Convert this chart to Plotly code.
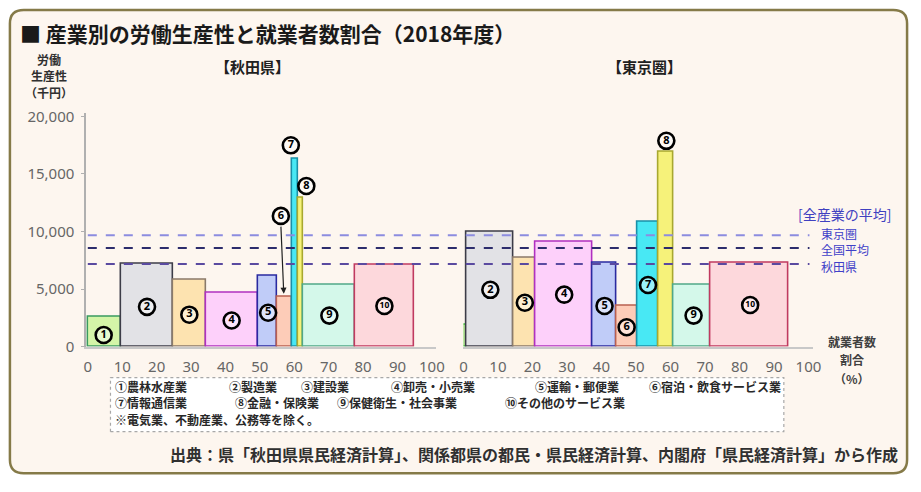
import numpy as np
import plotly.graph_objects as go

W, H = 921, 492

# ---------------- data ----------------
label_digits = ["1", "2", "3", "4", "5", "6", "7", "8", "9", "10"]
# employment share (%) -> bar widths
akita_share = [9.7, 15.2, 9.4, 15.2, 5.6, 4.3, 1.7, 1.6, 15.0, 17.1]
tokyo_share = [0.9, 13.6, 6.5, 16.5, 6.8, 6.0, 6.3, 4.4, 10.6, 22.7]
# labour productivity (thousand yen) -> bar heights
akita_prod = [2550, 7170, 5770, 4650, 6160, 4340, 16280, 12920, 5320, 7140]
tokyo_prod = [1850, 9970, 7730, 9130, 7230, 3500, 10870, 16950, 5400, 7230]
# all-industry averages
avg_names = ["東京圏", "全国平均", "秋田県"]
avg_values = [9660, 8570, 7170]
x_ticks = [0, 10, 20, 30, 40, 50, 60, 70, 80, 90, 100]
y_ticks = [0, 5000, 10000, 15000, 20000]
y_ticktext = ["0", "5,000", "10,000", "15,000", "20,000"]

y_title_lines = ["労働", "生産性", "（千円）"]
x_title_lines = ["就業者数", "割合", "（%）"]
legend_line1 = ["①農林水産業", "②製造業", "③建設業", "④卸売・小売業", "⑤運輸・郵便業", "⑥宿泊・飲食サービス業"]
legend_line2 = ["⑦情報通信業", "⑧金融・保険業", "⑨保健衛生・社会事業", "⑩その他のサービス業"]
legend_note = "※電気業、不動産業、公務等を除く。"
title = "■ 産業別の労働生産性と就業者数割合（2018年度）"
source = "出典：県「秋田県県民経済計算」、関係都県の都民・県民経済計算、内閣府「県民経済計算」から作成"

# ---------------- styles / label placement ----------------
fill_colors = ["#d4f5a8", "#e2e2e6", "#fde3b0", "#fdd0fa", "#c0ccf8",
               "#fdccb8", "#48e8f4", "#f6f27a", "#d4f8ea", "#fdd8dc"]
line_colors = ["#3a9a60", "#3c3c48", "#8a7a6a", "#b030c0", "#2a2aa0",
               "#b86050", "#1a90a8", "#a8a830", "#50a888", "#c03a60"]
tokyo_line_colors = ["#40c040"] + line_colors[1:]
avg_colors = ["#8c8ce0", "#2c2c6c", "#5a4aa0"]

akita_lab_x = [4.6, 17.2, 29.5, 41.8, 52.4, 56.1, 59.0, 63.5, 70.2, 86.2]
akita_lab_y = [1010, 3450, 2770, 2270, 2940, 11350, 17480, 13950, 2690, 3530]
tokyo_lab_x = [-1.5, 7.8, 17.8, 29.2, 40.9, 47.3, 53.5, 58.8, 66.7, 83.1]
tokyo_lab_y = [2600, 4930, 3810, 4510, 3530, 1680, 5350, 17870, 2690, 3610]

# gaps (in em) between legend items, per line
IDEO, EN = "\u3000", "\u2002"
gaps1 = [3.5, 2, 3.5, 5, 2.5]
gaps2 = [4, 1.5, 4]

CJK = "Noto Sans CJK JP"


def px(x):
    return x / W


def py(y):
    return 1 - y / H


def centers(shares):
    s = np.array(shares, dtype=float)
    right = np.cumsum(s)
    return right - s / 2


def gap(em):
    return IDEO * int(em) + (EN if em - int(em) >= 0.5 else "")


def join_items(items, gaps):
    out = items[0]
    for g, it in zip(gaps, items[1:]):
        out += gap(g) + it
    return out


fig = go.Figure()

# outer rounded frame
x0, x1, y0, y1, r = 6, 916, 3, 482, 14
path = (f"M {px(x0+r)} {py(y0)} L {px(x1-r)} {py(y0)} Q {px(x1)} {py(y0)} {px(x1)} {py(y0+r)} "
        f"L {px(x1)} {py(y1-r)} Q {px(x1)} {py(y1)} {px(x1-r)} {py(y1)} "
        f"L {px(x0+r)} {py(y1)} Q {px(x0)} {py(y1)} {px(x0)} {py(y1-r)} "
        f"L {px(x0)} {py(y0+r)} Q {px(x0)} {py(y0)} {px(x0+r)} {py(y0)} Z")
shapes = [dict(type="path", path=path, xref="paper", yref="paper",
               fillcolor="#fdf6ef", line=dict(color="#857a48", width=2.5), layer="below")]

# bars
ak_c = centers(akita_share)
tk_c = centers(tokyo_share)
fig.add_trace(go.Bar(x=ak_c, y=akita_prod, width=akita_share, xaxis="x", yaxis="y",
                     marker=dict(color=fill_colors, line=dict(color=line_colors, width=1.6)),
                     hoverinfo="skip", showlegend=False))
fig.add_trace(go.Bar(x=tk_c, y=tokyo_prod, width=tokyo_share, xaxis="x2", yaxis="y2",
                     marker=dict(color=fill_colors, line=dict(color=tokyo_line_colors, width=1.6)),
                     hoverinfo="skip", showlegend=False))

# circled number labels
lab_sizes = [11 if d != "10" else 8.5 for d in label_digits]
for lx, ly, xa, ya in [(akita_lab_x, akita_lab_y, "x", "y"), (tokyo_lab_x, tokyo_lab_y, "x2", "y2")]:
    fig.add_trace(go.Scatter(
        x=lx, y=ly, xaxis=xa, yaxis=ya, mode="markers+text",
        text=["<b>" + d + "</b>" for d in label_digits], textposition="middle center",
        textfont=dict(family="Noto Sans", size=lab_sizes, color="#000000"),
        marker=dict(symbol="circle", size=16, color="rgba(255,255,255,0.45)",
                    line=dict(color="#000000", width=2.6)),
        cliponaxis=False, hoverinfo="skip", showlegend=False))

# average lines across both panels
for v, c in zip(avg_values, avg_colors):
    shapes.append(dict(type="line", xref="paper", yref="y", x0=px(85), x1=px(817), y0=v, y1=v,
                       line=dict(color=c, width=2, dash="dash"), layer="above"))

# legend box
shapes.append(dict(type="rect", xref="paper", yref="paper", x0=px(108), x1=px(791),
                   y0=py(439), y1=py(383), fillcolor="#ffffff",
                   line=dict(color="#a8a8a8", width=1.2, dash="dot"), layer="below"))

ann = []
# arrow for ⑥ (Akita)
ann.append(dict(x=ak_c[5] - 0.3, y=akita_prod[5] + 250, xref="x", yref="y",
                ax=akita_lab_x[5], ay=akita_lab_y[5] - 800, axref="x", ayref="y",
                text="", showarrow=True, arrowhead=2, arrowsize=1, arrowwidth=1.2,
                arrowcolor="#202020"))


def txt(x, y, t, size, color, xanchor="center", bold=True, family=CJK, align="center"):
    ann.append(dict(x=px(x), y=py(y), xref="paper", yref="paper", xanchor=xanchor,
                    yanchor="middle", align=align,
                    text=("<b>" + t + "</b>") if bold else t, showarrow=False,
                    font=dict(family=family, size=size, color=color)))


txt(14, 27, title, 21, "#1a1a1a", xanchor="left")
for t, yy in zip(y_title_lines, [54, 71, 88]):
    txt(46, yy, t, 12, "#303030")
txt(252, 62, "【秋田県】", 15, "#202020")
txt(650, 62, "【東京圏】", 15, "#202020")
txt(853, 214, "[全産業の平均]", 14, "#4040c0", bold=False)
for name, yy in zip(avg_names, [234, 251, 268]):
    txt(827, yy, name, 12, "#4040c8", xanchor="left", bold=False)
for t, yy in zip(x_title_lines, [346, 364, 384]):
    txt(860, yy, t, 12, "#404040")

legend_lines = [join_items(legend_line1, gaps1), join_items(legend_line2, gaps2), legend_note]
for line, yy in zip(legend_lines, [392, 409, 426]):
    txt(111, yy, line, 12, "#282828", xanchor="left", align="left")
txt(909, 462, source, 16, "#303030", xanchor="right")

tick_font = dict(family="Noto Sans", size=15, color="#666666")
ydom = [py(351), py(109.4)]
fig.update_layout(
    width=W, height=H, margin=dict(l=0, r=0, t=0, b=0),
    paper_bgcolor="#ffffff", plot_bgcolor="rgba(0,0,0,0)",
    barmode="overlay", bargap=0, showlegend=False,
    shapes=shapes, annotations=ann,
    xaxis=dict(domain=[px(83.3), px(438.2)], range=[-0.5, 101.2], anchor="y",
               tickvals=x_ticks, showgrid=False, zeroline=False, showline=True,
               linecolor="#c8c8c8", linewidth=1.5, ticks="", tickfont=tick_font,
               ticklabelstandoff=6, fixedrange=True),
    yaxis=dict(domain=ydom, range=[0, 20300], anchor="x", tickvals=y_ticks, ticktext=y_ticktext,
               showgrid=False, zeroline=False, showline=True, linecolor="#b0b0b0", linewidth=1.5,
               ticks="outside", ticklen=3, tickcolor="#b0b0b0", tickfont=tick_font,
               ticklabelstandoff=4, fixedrange=True),
    xaxis2=dict(domain=[px(466), px(820.2)], range=[0, 101.2], anchor="y2",
                tickvals=x_ticks, showgrid=False, zeroline=False, showline=True,
                linecolor="#c8c8c8", linewidth=1.5, ticks="", tickfont=tick_font,
                ticklabelstandoff=6, fixedrange=True),
    yaxis2=dict(domain=ydom, range=[0, 20300], anchor="x2", visible=False, fixedrange=True),
)

fig.write_html("out.html")
